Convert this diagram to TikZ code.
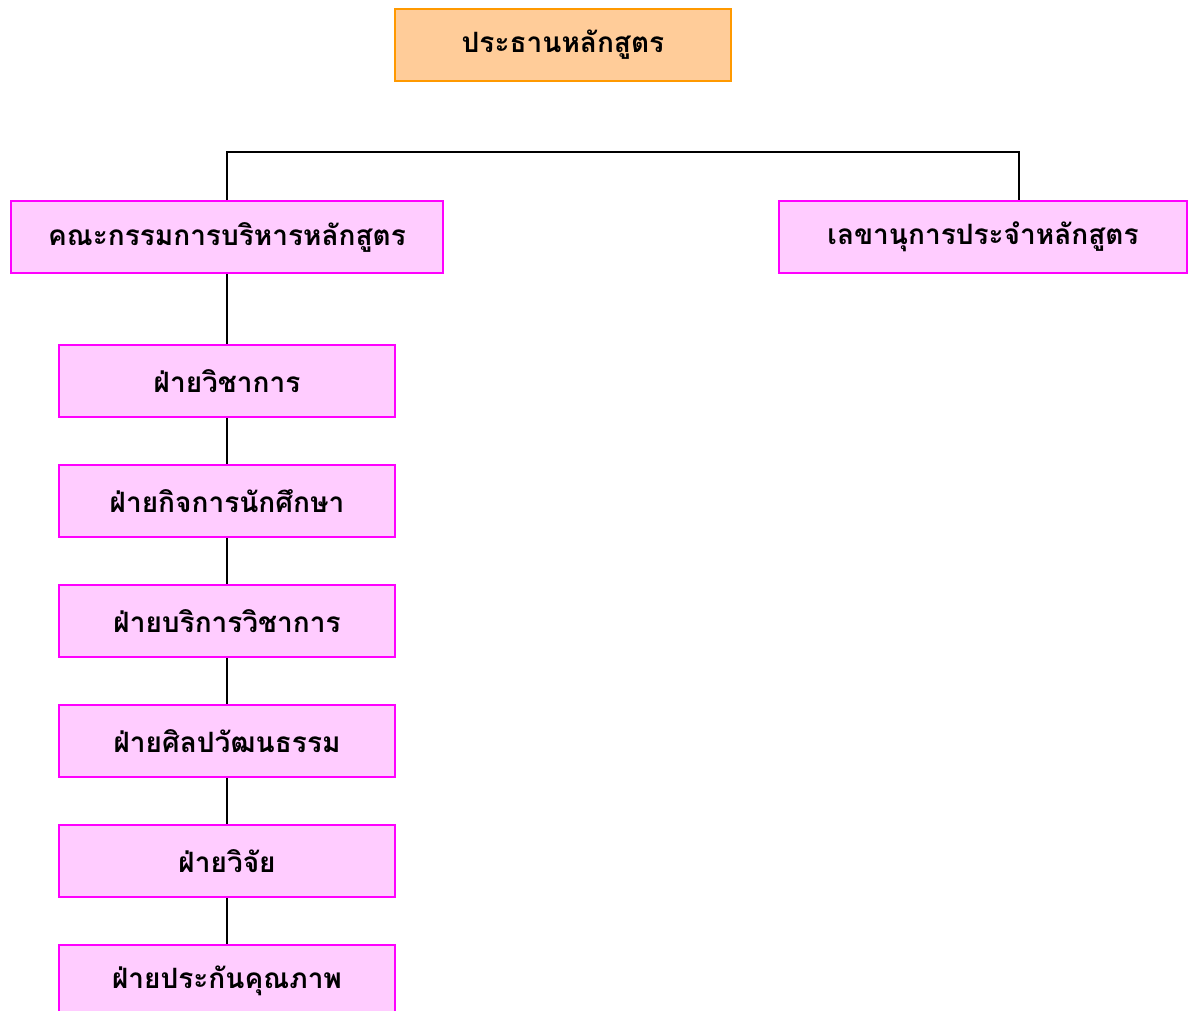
\documentclass[tikz,border=0pt]{standalone}
\usepackage{fontspec}
\newfontfamily\thaifont[Script=Thai]{Loma}
\definecolor{headfill}{HTML}{FFCC99}
\definecolor{headline}{HTML}{FF9900}
\definecolor{unitfill}{HTML}{FFCCFF}
\definecolor{unitline}{HTML}{FF00FF}
\begin{document}
\begin{tikzpicture}[x=0.5pt,y=-0.5pt,
    headbox/.style={draw=headline,fill=headfill,line width=1pt,minimum width=168pt,minimum height=36pt,inner sep=0pt,font=\thaifont\bfseries\fontsize{14}{16}\selectfont},
    unitbox/.style={draw=unitline,fill=unitfill,line width=1pt,minimum height=36pt,inner sep=0pt,font=\thaifont\bfseries\fontsize{14}{16}\selectfont},
    link/.style={draw=black,line width=1pt}]
      \clip (0,0) rectangle (1188,1011);
      \useasboundingbox (0,0) rectangle (1188,1011);
      \draw
        (563,45) node[headbox] (head){ประธานหลักสูตร}
        (227,237) node[unitbox,minimum width=216pt] (board){คณะกรรมการบริหารหลักสูตร}
        (983,237) node[unitbox,minimum width=204pt] (sec){เลขานุการประจำหลักสูตร}
        (227,381) node[unitbox,minimum width=168pt] (1){ฝ่ายวิชาการ}
        (227,501) node[unitbox,minimum width=168pt] (2){ฝ่ายกิจการนักศึกษา}
        (227,621) node[unitbox,minimum width=168pt] (3){ฝ่ายบริการวิชาการ}
        (227,741) node[unitbox,minimum width=168pt] (4){ฝ่ายศิลปวัฒนธรรม}
        (227,861) node[unitbox,minimum width=168pt] (5){ฝ่ายวิจัย}
        (227,981) node[unitbox,minimum width=168pt] (6){ฝ่ายประกันคุณภาพ};
      \begin{scope}[link]
        \draw (board.north) -- ++(0,-48) coordinate (bar) -| ([xshift=18pt]sec.north);
        \draw (board) to (1);
        \foreach \a/\b in {1/2,2/3,3/4,4/5,5/6}
          \draw (\a) to (\b);
      \end{scope}
    \end{tikzpicture}
\end{document}
